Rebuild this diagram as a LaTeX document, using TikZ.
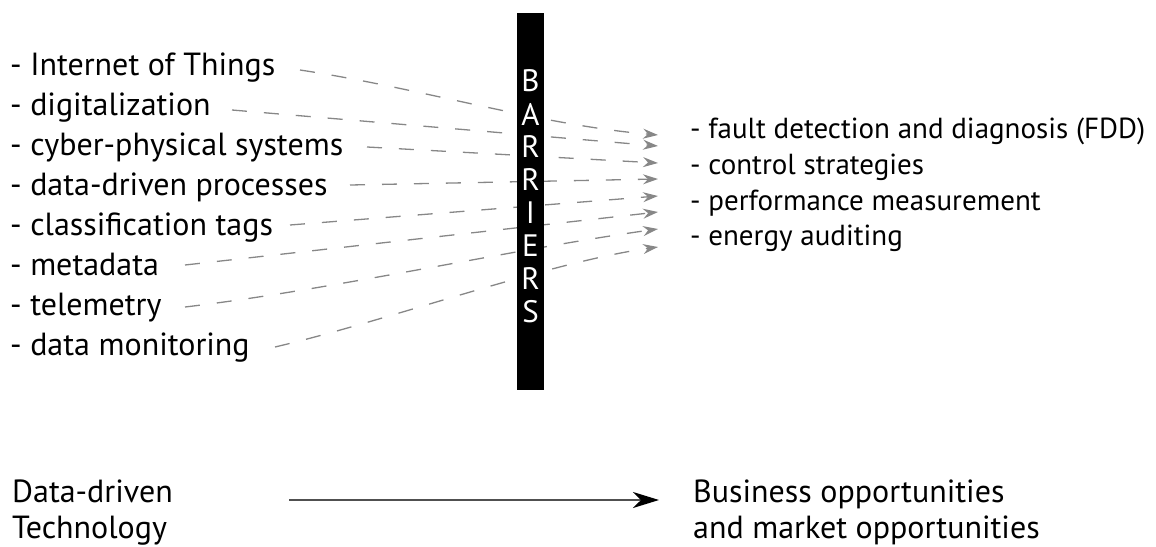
\documentclass[tikz,border=0pt]{standalone}
\usepackage{fontspec}
\setmainfont{PT Sans}
\usetikzlibrary{arrows.meta,calc}
\definecolor{flowgray}{RGB}{135,135,135}
\definecolor{linegray}{RGB}{80,80,80}
\begin{document}
\begin{tikzpicture}[x=1pt,y=-1pt,
  lefttext/.style={anchor=base west,inner sep=0pt,font=\fontsize{32}{38}\selectfont},
  righttext/.style={anchor=base west,inner sep=0pt,font=\fontsize{29}{35}\selectfont},
  bottomtext/.style={anchor=base west,inner sep=0pt,font=\fontsize{32}{38}\selectfont},
  flow/.style={draw=flowgray,line width=1.3pt,dash pattern=on 15pt off 17pt,
    -{Stealth[length=15pt,width=10pt,inset=5pt]}},
  barletter/.style={text=white,font=\fontsize{31}{31}\selectfont,inner sep=0pt,anchor=center},
  mainarrow/.style={draw=linegray,line width=1.8pt,
    -{Stealth[length=26pt,width=16pt,inset=8pt,color=black]}}
]
\useasboundingbox (0,0) rectangle (1156,546);

% left list
\node[lefttext] (l1) at (10,75)  {- Internet of Things};
\node[lefttext] (l2) at (10,115) {- digitalization};
\node[lefttext] (l3) at (10,155) {- cyber-physical systems};
\node[lefttext] (l4) at (10,195) {- data-driven processes};
\node[lefttext] (l5) at (10,235) {- classification tags};
\node[lefttext] (l6) at (10,275) {- metadata};
\node[lefttext] (l7) at (10,315) {- telemetry};
\node[lefttext] (l8) at (10,355) {- data monitoring};

% right list
\node[righttext] (r1) at (690,138) {- fault detection and diagnosis (FDD)};
\node[righttext] (r2) at (690,174) {- control strategies};
\node[righttext] (r3) at (690,210) {- performance measurement};
\node[righttext] (r4) at (690,245) {- energy auditing};

% start and end points of the flows
\coordinate (s1) at (300,70);
\coordinate (s2) at (232,110);
\coordinate (s3) at (367,147);
\coordinate (s4) at (350,185);
\coordinate (s5) at (290,225);
\coordinate (s6) at (185,265);
\coordinate (s7) at (185,307);
\coordinate (s8) at (275,347);
\coordinate (e1) at (658,135);
\coordinate (e2) at (658,146);
\coordinate (e3) at (658,163);
\coordinate (e4) at (658,179);
\coordinate (e5) at (658,196);
\coordinate (e6) at (658,212);
\coordinate (e7) at (658,229);
\coordinate (e8) at (658,247);

\draw[flow] (s1) .. controls (420,88) and (540,125) .. (e1);
\draw[flow] (s2) -- (e2);
\draw[flow] (s3) -- (e3);
\draw[flow] (s4) -- (e4);
\draw[flow] (s5) -- (e5);
\draw[flow] (s6) -- (e6);
\draw[flow] (s7) .. controls (330,290) and (520,248) .. (e7);
\draw[flow] (s8) .. controls (390,320) and (550,262) .. (e8);

% barrier bar
\node[fill=black,inner sep=0pt,minimum width=27pt,minimum height=377pt] (bar) at (530.5,201.5) {};
\foreach \ch [count=\i from 0] in {B,A,R,R,I,E,R,S}
  \node[barletter] (b\i) at (530.5,81+33*\i) {\ch};

% bottom
\node[bottomtext] (dd1) at (12,502) {Data-driven};
\node[bottomtext] (dd2) at (12,538) {Technology};
\node[bottomtext] (bo1) at (693,502) {Business opportunities};
\node[bottomtext] (bo2) at (693,538) {and market opportunities};
\coordinate (as) at (289,500);
\coordinate (ae) at (659,500);
\draw[mainarrow] (as) -- (ae);
\end{tikzpicture}
\end{document}
